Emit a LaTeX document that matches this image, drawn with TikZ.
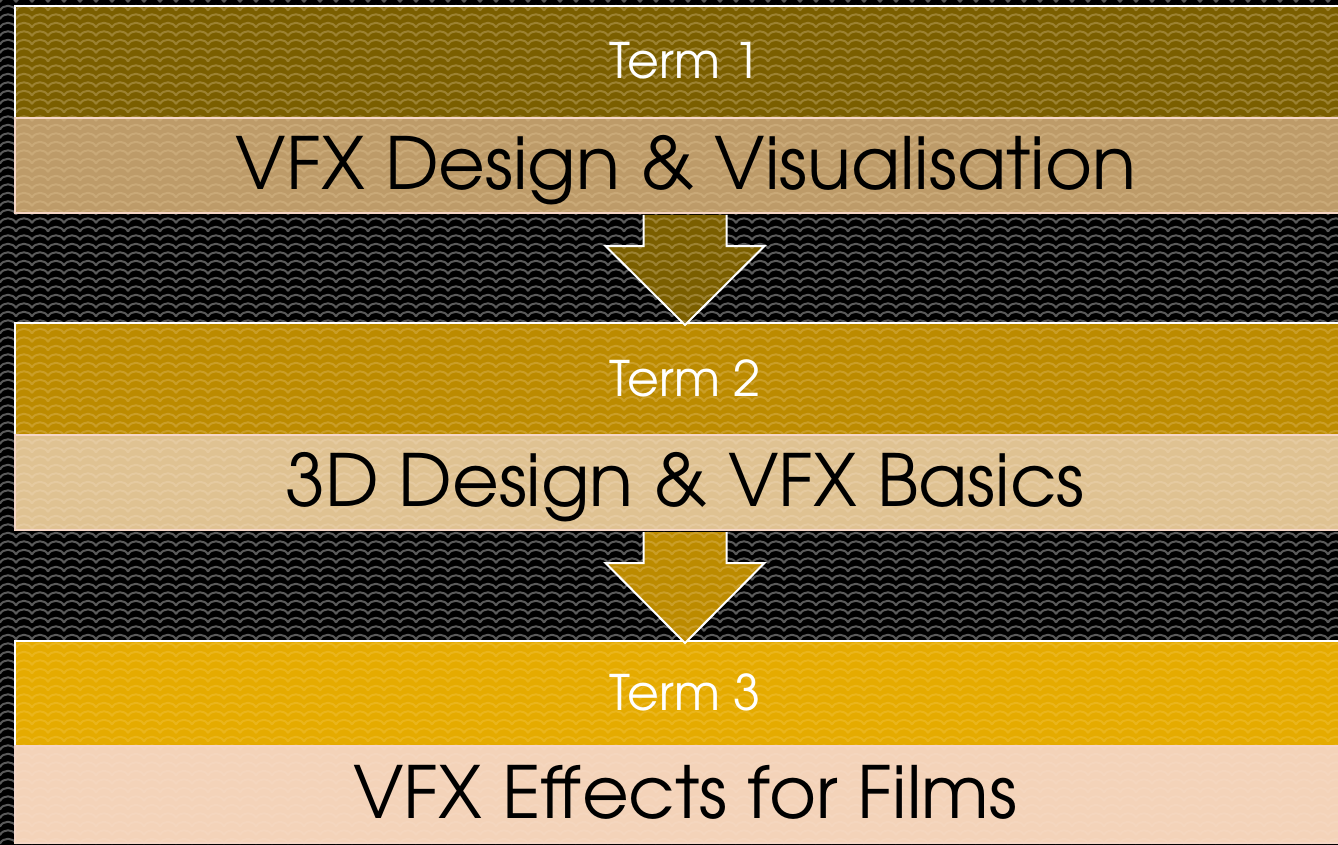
\documentclass[tikz,border=0pt]{standalone}
\usepackage{fontspec}
\setmainfont{TeX Gyre Adventor}
\usetikzlibrary{patterns,calc}

% Wavy texture tile: rows of rounded humps meeting in sharp valleys
\pgfdeclarepatternformonly{waves}{\pgfqpoint{-1pt}{-1pt}}{\pgfqpoint{17pt}{9.5pt}}{\pgfqpoint{16pt}{8.5pt}}{%
  \pgfsetlinewidth{2pt}%
  \pgfpathmoveto{\pgfqpoint{0pt}{1.3pt}}%
  \pgfpathcurveto{\pgfqpoint{2.5pt}{7.8pt}}{\pgfqpoint{13.5pt}{7.8pt}}{\pgfqpoint{16pt}{1.3pt}}%
  \pgfusepath{stroke}%
}

\definecolor{bgwave}{HTML}{5A5A5A}
\definecolor{headA}{HTML}{7B5F00}
\definecolor{headAw}{HTML}{9C8232}
\definecolor{bodyA}{HTML}{BD9B69}
\definecolor{bodyAw}{HTML}{C9A978}
\definecolor{headB}{HTML}{BC8B00}
\definecolor{headBw}{HTML}{CA9E28}
\definecolor{bodyB}{HTML}{DFC292}
\definecolor{bodyBw}{HTML}{E5CAA0}
\definecolor{headC}{HTML}{E5AB00}
\definecolor{headCw}{HTML}{EAB51C}
\definecolor{bodyC}{HTML}{F4D3B9}
\definecolor{bodyCw}{HTML}{F5D6BE}
\definecolor{pinkline}{HTML}{F6D6C6}

\tikzset{
  textured/.style 2 args={preaction={fill=#1}, pattern=waves, pattern color=#2},
  band/.style={rectangle, inner sep=0pt, minimum width=1340pt, line width=2pt},
  headband/.style={band, draw=white},
  bodyband/.style={band, draw=pinkline},
  termtxt/.style={text=white, font=\fontsize{49}{52}\selectfont, inner sep=0pt},
  titletxt/.style={text=black, font=\fontsize{72}{76}\selectfont, inner sep=0pt},
  flowarrow/.style={line width=2pt, draw=white, line join=miter},
}

% Block arrow hanging from the bottom of one band down into the next
\newcommand\blockarrow[4]{%
  \fill[textured={#3}{#4}]
    ($(#1.south)+(-41.5,1)$) -- ++(0,31) -- ++(-38,0) -- ($(#2.north)+(0,3)$)
    -- ($(#1.south)+(79.5,32)$) -- ++(-38,0) -- ++(0,-31) -- cycle;
  \draw[flowarrow]
    ($(#1.south)+(-41.5,1)$) -- ++(0,31) -- ++(-38,0) -- ($(#2.north)+(0,3)$)
    -- ($(#1.south)+(79.5,32)$) -- ++(-38,0) -- ++(0,-31);
}

\begin{document}
\begin{tikzpicture}[x=1pt, y=-1pt]
\useasboundingbox (0,0) rectangle (1338,845);
\clip (0,0) rectangle (1338,845);
\fill[textured={black}{bgwave}] (0,0) rectangle (1338,845);

% Term 1
\node[headband, minimum height=112pt, textured={headA}{headAw}] (h1) at (685,62) {};
\node[bodyband, minimum height=95pt, textured={bodyA}{bodyAw}] (c1) at (685,165.5) {};
% Term 2
\node[headband, minimum height=112pt, textured={headB}{headBw}] (h2) at (685,379) {};
\node[bodyband, minimum height=95pt, textured={bodyB}{bodyBw}] (c2) at (685,482.5) {};
% Term 3
\node[headband, minimum height=105pt, textured={headC}{headCw}] (h3) at (685,693.5) {};
\node[bodyband, minimum height=97pt, textured={bodyC}{bodyCw}] (c3) at (685,794.5) {};

% Arrows between terms
\blockarrow{c1}{h2}{headA}{headAw}
\blockarrow{c2}{h3}{headB}{headBw}

% Labels
\node[termtxt, anchor=base] (t1) at ($(h1.center)+(0,17)$) {Term 1};
\node[titletxt, anchor=base] (s1) at ($(c1.center)+(1,24)$) {VFX Design \& Visualisation};
\node[termtxt, anchor=base] (t2) at ($(h2.center)+(0,17)$) {Term 2};
\node[titletxt, anchor=base] (s2) at ($(c2.center)+(0,24)$) {3D Design \& VFX Basics};
\node[termtxt, anchor=base] (t3) at ($(h3.center)+(0,17)$) {Term 3};
\node[titletxt, anchor=base] (s3) at ($(c3.center)+(0,24)$) {VFX Effects for Films};
\end{tikzpicture}
\end{document}
